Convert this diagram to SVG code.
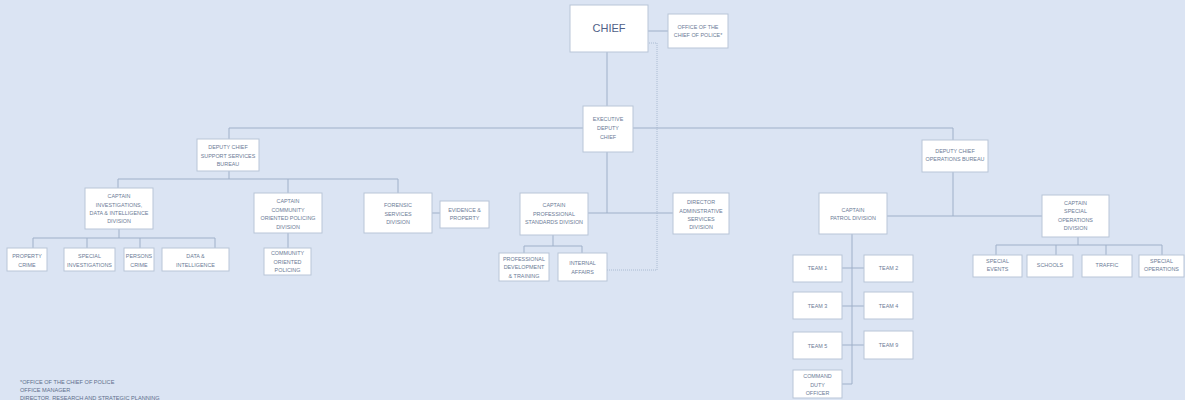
<svg xmlns="http://www.w3.org/2000/svg" width="1185" height="400" viewBox="0 0 1185 400">
<style>
.bg{fill:#dbe4f3}
.box{fill:#ffffff;stroke:#b9c5d8;stroke-width:1}
.t{font-family:"Liberation Sans",Arial,sans-serif;font-size:5.4px;fill:#6b7a95;text-anchor:middle}
.big{font-size:11px;fill:#4f6088}
.c{fill:none;stroke:#9fb0c9;stroke-width:1}
.d{fill:none;stroke:#9fb0c9;stroke-width:0.8;stroke-dasharray:1 1}
.note{font-family:"Liberation Sans",Arial,sans-serif;font-size:5.6px;fill:#5f6f8c}
</style>
<rect class="bg" x="0" y="0" width="1185" height="400"/>
<g id="connectors">
<path class="c" d="M648,31 H668"/>
<path class="c" d="M607,52 V106"/>
<path class="c" d="M607,152 V213 M588,213 H673"/>
<path class="c" d="M229,128 H583 M633,128 H953 M229,128 V139 M953,128 V140"/>
<path class="c" d="M229,171 V179 M118,179 H398 M118,179 V188 M288,179 V193 M398,179 V193"/>
<path class="c" d="M119,229 V238 M33,238 H215 M33,238 V248 M87,238 V248 M140,238 V248 M215,238 V248"/>
<path class="c" d="M288,233 V248"/>
<path class="c" d="M432,213 H440"/>
<path class="c" d="M553,235 V246 M524,246 H582 M524,246 V253 M582,246 V253"/>
<path class="d" d="M607,270 H657 V43 H648"/>
<path class="c" d="M953,172 V216 M887,216 H1042"/>
<path class="c" d="M852,234 V384 M842,268 H864 M842,306 H864 M842,345 H864 M842,384 H852"/>
<path class="c" d="M1078,237 V245 M996,245 H1162 M996,245 V255 M1056,245 V255 M1106,245 V255 M1162,245 V255"/>
</g>
<g id="chief"><rect class="box" x="570" y="5" width="78" height="47"/><text class="t big" x="609" y="32">CHIEF</text></g>
<g id="office"><rect class="box" x="668" y="14" width="60" height="34"/><text class="t" x="698" y="29" font-size="5">OFFICE OF THE</text><text class="t" x="698" y="36.5" font-size="5">CHIEF OF POLICE*</text></g>
<g id="edc"><rect class="box" x="583" y="106" width="50" height="46"/><text class="t" x="608" y="121">EXECUTIVE</text><text class="t" x="608" y="130">DEPUTY</text><text class="t" x="608" y="139">CHIEF</text></g>
<g id="dcss"><rect class="box" x="197" y="139" width="62" height="32"/><text class="t" x="228" y="149">DEPUTY CHIEF</text><text class="t" x="228" y="157.5">SUPPORT SERVICES</text><text class="t" x="228" y="166">BUREAU</text></g>
<g id="capinv"><rect class="box" x="85" y="188" width="68" height="41"/><text class="t" x="119" y="198">CAPTAIN</text><text class="t" x="119" y="206.5">INVESTIGATIONS,</text><text class="t" x="119" y="215">DATA &amp; INTELLIGENCE</text><text class="t" x="119" y="223">DIVISION</text></g>
<g id="property"><rect class="box" x="7" y="248" width="40" height="23"/><text class="t" x="27" y="258">PROPERTY</text><text class="t" x="27" y="267">CRIME</text></g>
<g id="specinv"><rect class="box" x="64" y="248" width="51" height="23"/><text class="t" x="89.5" y="258">SPECIAL</text><text class="t" x="89.5" y="267">INVESTIGATIONS</text></g>
<g id="persons"><rect class="box" x="124" y="248" width="30" height="23"/><text class="t" x="139" y="258">PERSONS</text><text class="t" x="139" y="267">CRIME</text></g>
<g id="dataint"><rect class="box" x="162" y="248" width="67" height="23"/><text class="t" x="195.5" y="258">DATA &amp;</text><text class="t" x="195.5" y="267">INTELLIGENCE</text></g>
<g id="capcop"><rect class="box" x="254" y="193" width="68" height="40"/><text class="t" x="288" y="203">CAPTAIN</text><text class="t" x="288" y="211.5">COMMUNITY</text><text class="t" x="288" y="220">ORIENTED POLICING</text><text class="t" x="288" y="228.5">DIVISION</text></g>
<g id="cop"><rect class="box" x="264" y="248" width="47" height="27"/><text class="t" x="287.5" y="255">COMMUNITY</text><text class="t" x="287.5" y="263.5">ORIENTED</text><text class="t" x="287.5" y="272">POLICING</text></g>
<g id="forensic"><rect class="box" x="364" y="193" width="68" height="40"/><text class="t" x="398" y="207">FORENSIC</text><text class="t" x="398" y="215.5">SERVICES</text><text class="t" x="398" y="224">DIVISION</text></g>
<g id="evidence"><rect class="box" x="440" y="201" width="49" height="27"/><text class="t" x="464.5" y="212">EVIDENCE &amp;</text><text class="t" x="464.5" y="220">PROPERTY</text></g>
<g id="capps"><rect class="box" x="520" y="193" width="68" height="42"/><text class="t" x="554" y="207">CAPTAIN</text><text class="t" x="554" y="215.5">PROFESSIONAL</text><text class="t" x="554" y="224">STANDARDS DIVISION</text></g>
<g id="director"><rect class="box" x="673" y="193" width="56" height="41"/><text class="t" x="701" y="204">DIRECTOR</text><text class="t" x="701" y="212.5">ADMINSTRATIVE</text><text class="t" x="701" y="221">SERVICES</text><text class="t" x="701" y="229">DIVISION</text></g>
<g id="pdt"><rect class="box" x="499" y="253" width="50" height="28"/><text class="t" x="524" y="261">PROFESSIONAL</text><text class="t" x="524" y="269">DEVELOPMENT</text><text class="t" x="524" y="277.5">&amp; TRAINING</text></g>
<g id="ia"><rect class="box" x="558" y="253" width="49" height="28"/><text class="t" x="582.5" y="265">INTERNAL</text><text class="t" x="582.5" y="273.5">AFFAIRS</text></g>
<g id="dcops"><rect class="box" x="922" y="140" width="66" height="32"/><text class="t" x="955" y="153">DEPUTY CHIEF</text><text class="t" x="955" y="161">OPERATIONS BUREAU</text></g>
<g id="patrol"><rect class="box" x="819" y="193" width="68" height="41"/><text class="t" x="853" y="212">CAPTAIN</text><text class="t" x="853" y="220">PATROL DIVISION</text></g>
<g id="capso"><rect class="box" x="1042" y="195" width="67" height="42"/><text class="t" x="1075.5" y="205">CAPTAIN</text><text class="t" x="1075.5" y="213">SPECIAL</text><text class="t" x="1075.5" y="221.5">OPERATIONS</text><text class="t" x="1075.5" y="230">DIVISION</text></g>
<g id="specevents"><rect class="box" x="973" y="255" width="49" height="22"/><text class="t" x="997.5" y="263">SPECIAL</text><text class="t" x="997.5" y="271">EVENTS</text></g>
<g id="schools"><rect class="box" x="1027" y="255" width="46" height="22"/><text class="t" x="1050" y="267">SCHOOLS</text></g>
<g id="traffic"><rect class="box" x="1082" y="255" width="50" height="22"/><text class="t" x="1107" y="267">TRAFFIC</text></g>
<g id="specops"><rect class="box" x="1139" y="255" width="45" height="22"/><text class="t" x="1161.5" y="263">SPECIAL</text><text class="t" x="1161.5" y="271">OPERATIONS</text></g>
<g id="team1"><rect class="box" x="793" y="255" width="49" height="27"/><text class="t" x="817.5" y="270">TEAM 1</text></g>
<g id="team2"><rect class="box" x="864" y="255" width="49" height="27"/><text class="t" x="888.5" y="270">TEAM 2</text></g>
<g id="team3"><rect class="box" x="793" y="292" width="49" height="27"/><text class="t" x="817.5" y="308">TEAM 3</text></g>
<g id="team4"><rect class="box" x="864" y="292" width="49" height="27"/><text class="t" x="888.5" y="308">TEAM 4</text></g>
<g id="team5"><rect class="box" x="793" y="332" width="49" height="27"/><text class="t" x="817.5" y="347.5">TEAM 5</text></g>
<g id="team9"><rect class="box" x="864" y="331" width="49" height="28"/><text class="t" x="888.5" y="347">TEAM 9</text></g>
<g id="cdo"><rect class="box" x="793" y="370" width="49" height="28"/><text class="t" x="817.5" y="378">COMMAND</text><text class="t" x="817.5" y="386.5">DUTY</text><text class="t" x="817.5" y="394.5">OFFICER</text></g>
<g id="footnote">
<text class="note" x="20" y="384">*OFFICE OF THE CHIEF OF POLICE</text>
<text class="note" x="20" y="392">OFFICE MANAGER</text>
<text class="note" x="20" y="399.5" font-size="5">DIRECTOR, RESEARCH AND STRATEGIC PLANNING</text>
</g>
</svg>
